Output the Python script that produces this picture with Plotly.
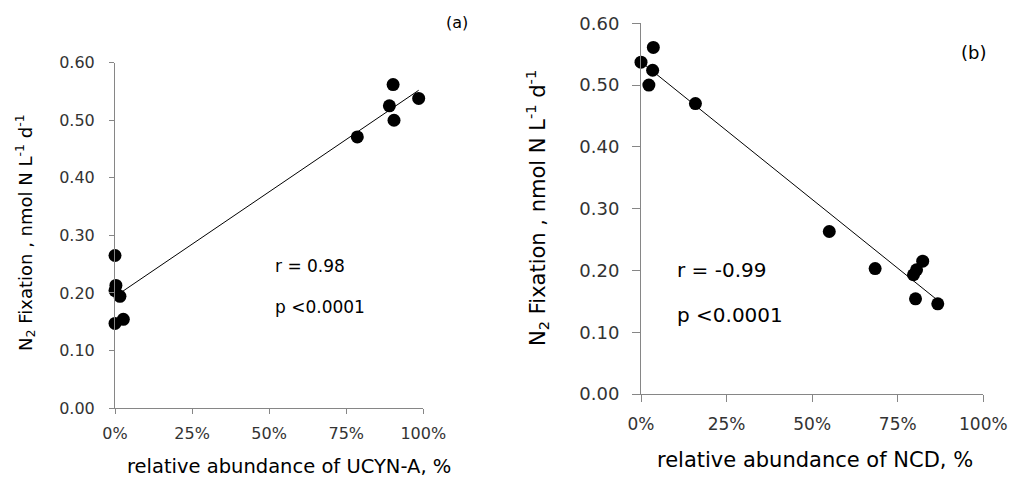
import numpy as np
import plotly.graph_objects as go

W, H = 1009, 477

# Panel (a): relative abundance of UCYN-A vs N2 fixation
ucyn_x = [0.902, 0.985, 0.89, 0.905, 0.786, 0.0, 0.003, 0.0, 0.016, 0.0, 0.027]
ucyn_y = [0.562, 0.538, 0.525, 0.500, 0.471, 0.265, 0.213, 0.204, 0.194, 0.147, 0.154]

# Panel (b): relative abundance of NCD vs N2 fixation
ncd_x = [0.0, 0.036, 0.034, 0.023, 0.159, 0.55, 0.684, 0.796, 0.805, 0.823, 0.802, 0.867]
ncd_y = [0.537, 0.561, 0.524, 0.500, 0.470, 0.263, 0.203, 0.193, 0.201, 0.215, 0.154, 0.146]

y_ticks = [0.0, 0.1, 0.2, 0.3, 0.4, 0.5, 0.6]
x_ticks = [0.0, 0.25, 0.5, 0.75, 1.0]

FONT = "DejaVu Sans"
AXIS_COLOR = "#868686"
TICK_COLOR = "#333333"


def px(x):
    return x / W


def py(y):
    return 1 - y / H


fig = go.Figure()


def add_panel(xs, ys, xa, ya):
    fig.add_trace(go.Scatter(
        x=xs, y=ys, mode="markers", xaxis=xa, yaxis=ya,
        marker=dict(color="black", size=13), cliponaxis=False, showlegend=False))
    slope, inter = np.polyfit(xs, ys, 1)
    lx = [min(xs), max(xs)]
    ly = [slope * v + inter for v in lx]
    fig.add_trace(go.Scatter(
        x=lx, y=ly, mode="lines", xaxis=xa, yaxis=ya,
        line=dict(color="black", width=1), cliponaxis=False, showlegend=False))


add_panel(ucyn_x, ucyn_y, "x", "y")
add_panel(ncd_x, ncd_y, "x2", "y2")


def xaxis(domain, anchor, size, ticklen, standoff):
    return dict(domain=domain, anchor=anchor, range=[0, 1], tickvals=x_ticks,
                tickformat=".0%", showgrid=False, zeroline=False, showline=True,
                linecolor=AXIS_COLOR, linewidth=1, ticks="outside", ticklen=ticklen,
                tickcolor=AXIS_COLOR, tickfont=dict(family=FONT, size=size, color=TICK_COLOR),
                ticklabelstandoff=standoff, automargin=False, fixedrange=True)


def yaxis(domain, anchor, size, ticklen, standoff):
    return dict(domain=domain, anchor=anchor, range=[0, 0.6], tickvals=y_ticks,
                tickformat=".2f", showgrid=False, zeroline=False, showline=True,
                linecolor=AXIS_COLOR, linewidth=1, ticks="outside", ticklen=ticklen,
                tickcolor=AXIS_COLOR, tickfont=dict(family=FONT, size=size, color=TICK_COLOR),
                ticklabelstandoff=standoff, automargin=False, fixedrange=True)


fig.update_layout(
    width=W, height=H,
    margin=dict(l=0, r=0, t=0, b=0, autoexpand=False),
    paper_bgcolor="white", plot_bgcolor="white",
    xaxis=xaxis([px(115), px(423.3)], "y", 16, 5, 6),
    yaxis=yaxis([py(408), py(62.7)], "x", 16, 5, 11),
    xaxis2=xaxis([px(641), px(983.3)], "y2", 17, 7, 8),
    yaxis2=yaxis([py(394), py(23.3)], "x2", 18, 8, 9),
)

ytitle = "N<sub>2</sub> Fixation , nmol N L<sup>-1</sup> d<sup>-1</sup>"
annots = [
    dict(text="(a)", x=px(457), y=py(22), size=16),
    dict(text="(b)", x=px(973), y=py(52), size=18),
    dict(text="r = 0.98", x=px(273), y=py(266), size=17, xanchor="left"),
    dict(text="p <0.0001", x=px(273), y=py(307), size=17, xanchor="left"),
    dict(text="r = -0.99", x=px(675), y=py(270), size=20, xanchor="left"),
    dict(text="p <0.0001", x=px(675), y=py(315), size=20, xanchor="left"),
    dict(text="relative abundance of UCYN-A, %", x=px(289), y=py(466), size=19.5),
    dict(text="relative abundance of NCD, %", x=px(815), y=py(460), size=21),
    dict(text=ytitle, x=px(25), y=py(233), size=18, textangle=-90),
    dict(text=ytitle, x=px(537), y=py(208), size=21, textangle=-90),
]
for a in annots:
    fig.add_annotation(
        text=a["text"], x=a["x"], y=a["y"], xref="paper", yref="paper",
        xanchor=a.get("xanchor", "center"), yanchor="middle",
        textangle=a.get("textangle", 0), showarrow=False,
        font=dict(family=FONT, size=a["size"], color="black"))

fig.write_html("out.html", config={"displayModeBar": False},
               post_script="document.body.style.margin='0';")
